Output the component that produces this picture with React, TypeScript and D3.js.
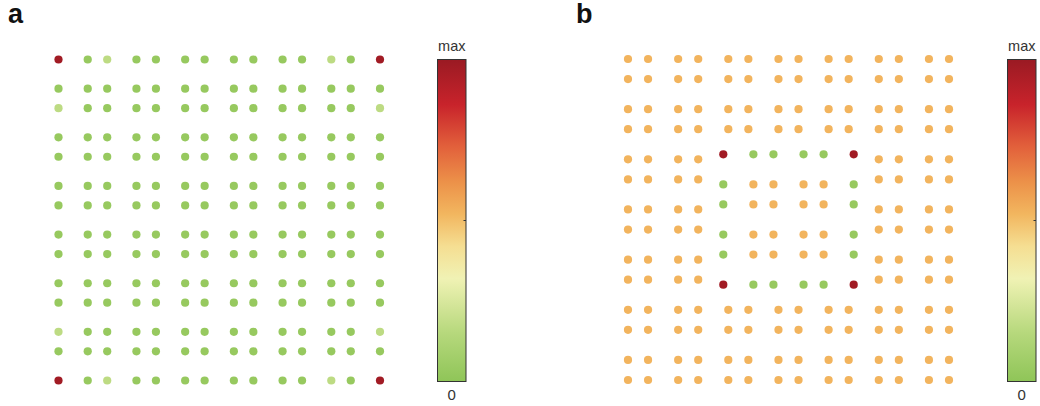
import React from 'react';
import * as d3 from 'd3';

// colour scale stops, bottom (0) to top (max)
const barStops = [
  { t: 0.0, c: '#8fc558' },
  { t: 0.15, c: '#b6d87c' },
  { t: 0.32, c: '#f0f2b4' },
  { t: 0.42, c: '#f5de92' },
  { t: 0.52, c: '#f2b65f' },
  { t: 0.62, c: '#ec9149' },
  { t: 0.73, c: '#e2603b' },
  { t: 0.86, c: '#c8232b' },
  { t: 1.0, c: '#9a1a23' },
];

// level codes used in the grids below
const levels: Record<string, number> = { G: 0.03, L: 0.17, O: 0.525, R: 0.98 };

// panel a: 14 x 14 electrode grid
const aPos = [0, 1.5, 2.5, 4, 5, 6.5, 7.5, 9, 10, 11.5, 12.5, 14, 15, 16.5];
const aRows = [
  'RGLGGGGGGGGLGR',
  'GGGGGGGGGGGGGG',
  'LGGGGGGGGGGGGL',
  'GGGGGGGGGGGGGG',
  'GGGGGGGGGGGGGG',
  'GGGGGGGGGGGGGG',
  'GGGGGGGGGGGGGG',
  'GGGGGGGGGGGGGG',
  'GGGGGGGGGGGGGG',
  'GGGGGGGGGGGGGG',
  'GGGGGGGGGGGGGG',
  'LGGGGGGGGGGGGL',
  'GGGGGGGGGGGGGG',
  'RGLGGGGGGGGLGR',
];

// panel b: outer 14 x 14 grid with the centre replaced by a 6 x 6 ring
const bPos = [0, 2, 5, 7, 10, 12, 15, 17, 20, 22, 25, 27, 30, 32];
const bRows = [
  'OOOOOOOOOOOOOO',
  'OOOOOOOOOOOOOO',
  'OOOOOOOOOOOOOO',
  'OOOOOOOOOOOOOO',
  'OOOO......OOOO',
  'OOOO......OOOO',
  'OOOO......OOOO',
  'OOOO......OOOO',
  'OOOO......OOOO',
  'OOOO......OOOO',
  'OOOOOOOOOOOOOO',
  'OOOOOOOOOOOOOO',
  'OOOOOOOOOOOOOO',
  'OOOOOOOOOOOOOO',
];
const ringPos = [9.5, 12.5, 14.5, 17.5, 19.5, 22.5];
const ringRows = [
  'RGGGGR',
  'GOOOOG',
  'GOOOOG',
  'GOOOOG',
  'GOOOOG',
  'RGGGGR',
];

const barLabels = ['max', '0'];

const color = d3
  .scaleLinear<string>()
  .domain(barStops.map(s => s.t))
  .range(barStops.map(s => s.c))
  .interpolate(d3.interpolateRgb);

type Dot = { x: number; y: number; v: number };

const toDots = (rows: string[], pos: number[]): Dot[] => {
  const out: Dot[] = [];
  rows.forEach((row, j) => {
    row.split('').forEach((ch, i) => {
      if (levels[ch] !== undefined) out.push({ x: pos[i], y: pos[j], v: levels[ch] });
    });
  });
  return out;
};

const ColorBar = ({ x, id }: { x: number; id: string }) => {
  const top = 59.5;
  const bottom = 381.5;
  const w = 28.5;
  const yScale = d3.scaleLinear().domain([0, 1]).range([bottom, top]);
  return (
    <g>
      <defs>
        <linearGradient id={id} x1="0" y1="1" x2="0" y2="0">
          {barStops.map(s => (
            <stop key={s.t} offset={s.t} stopColor={s.c} />
          ))}
        </linearGradient>
      </defs>
      <rect x={x} y={top} width={w} height={bottom - top} fill={`url(#${id})`} stroke="#333" strokeWidth={1} />
      <line x1={x + w - 2.5} x2={x + w} y1={yScale(0.5)} y2={yScale(0.5)} stroke="#333" strokeWidth={1} />
      <text x={x + w / 2} y={51} textAnchor="middle" fontSize={14.5} fill="#333">
        {barLabels[0]}
      </text>
      <text x={x + w / 2} y={400} textAnchor="middle" fontSize={15} fill="#333">
        {barLabels[1]}
      </text>
    </g>
  );
};

const App = () => {
  const r = 4.1;
  const ax = d3.scaleLinear().domain([0, 16.5]).range([58.5, 380]);
  const ay = d3.scaleLinear().domain([0, 16.5]).range([59.5, 380.5]);
  const bx = d3.scaleLinear().domain([0, 32]).range([628, 949]);
  const by = d3.scaleLinear().domain([0, 32]).range([59, 380]);

  const aDots = toDots(aRows, aPos);
  const bDots = [...toDots(bRows, bPos), ...toDots(ringRows, ringPos)];

  return (
    <svg
      width={1040}
      height={406}
      style={{ position: 'absolute', left: 0, top: 0, fontFamily: 'Liberation Sans, Arial, sans-serif', background: '#fff' }}
    >
      <text x={8} y={23} fontSize={27} fontWeight="bold" fill="#111">a</text>
      <text x={576} y={23} fontSize={27} fontWeight="bold" fill="#111">b</text>

      {aDots.map((d, i) => (
        <circle key={`a${i}`} cx={ax(d.x)} cy={ay(d.y)} r={r} fill={color(d.v)} />
      ))}
      {bDots.map((d, i) => (
        <circle key={`b${i}`} cx={bx(d.x)} cy={by(d.y)} r={r} fill={color(d.v)} />
      ))}

      <ColorBar x={437.5} id="cbA" />
      <ColorBar x={1007.5} id="cbB" />
    </svg>
  );
};

export default App;
